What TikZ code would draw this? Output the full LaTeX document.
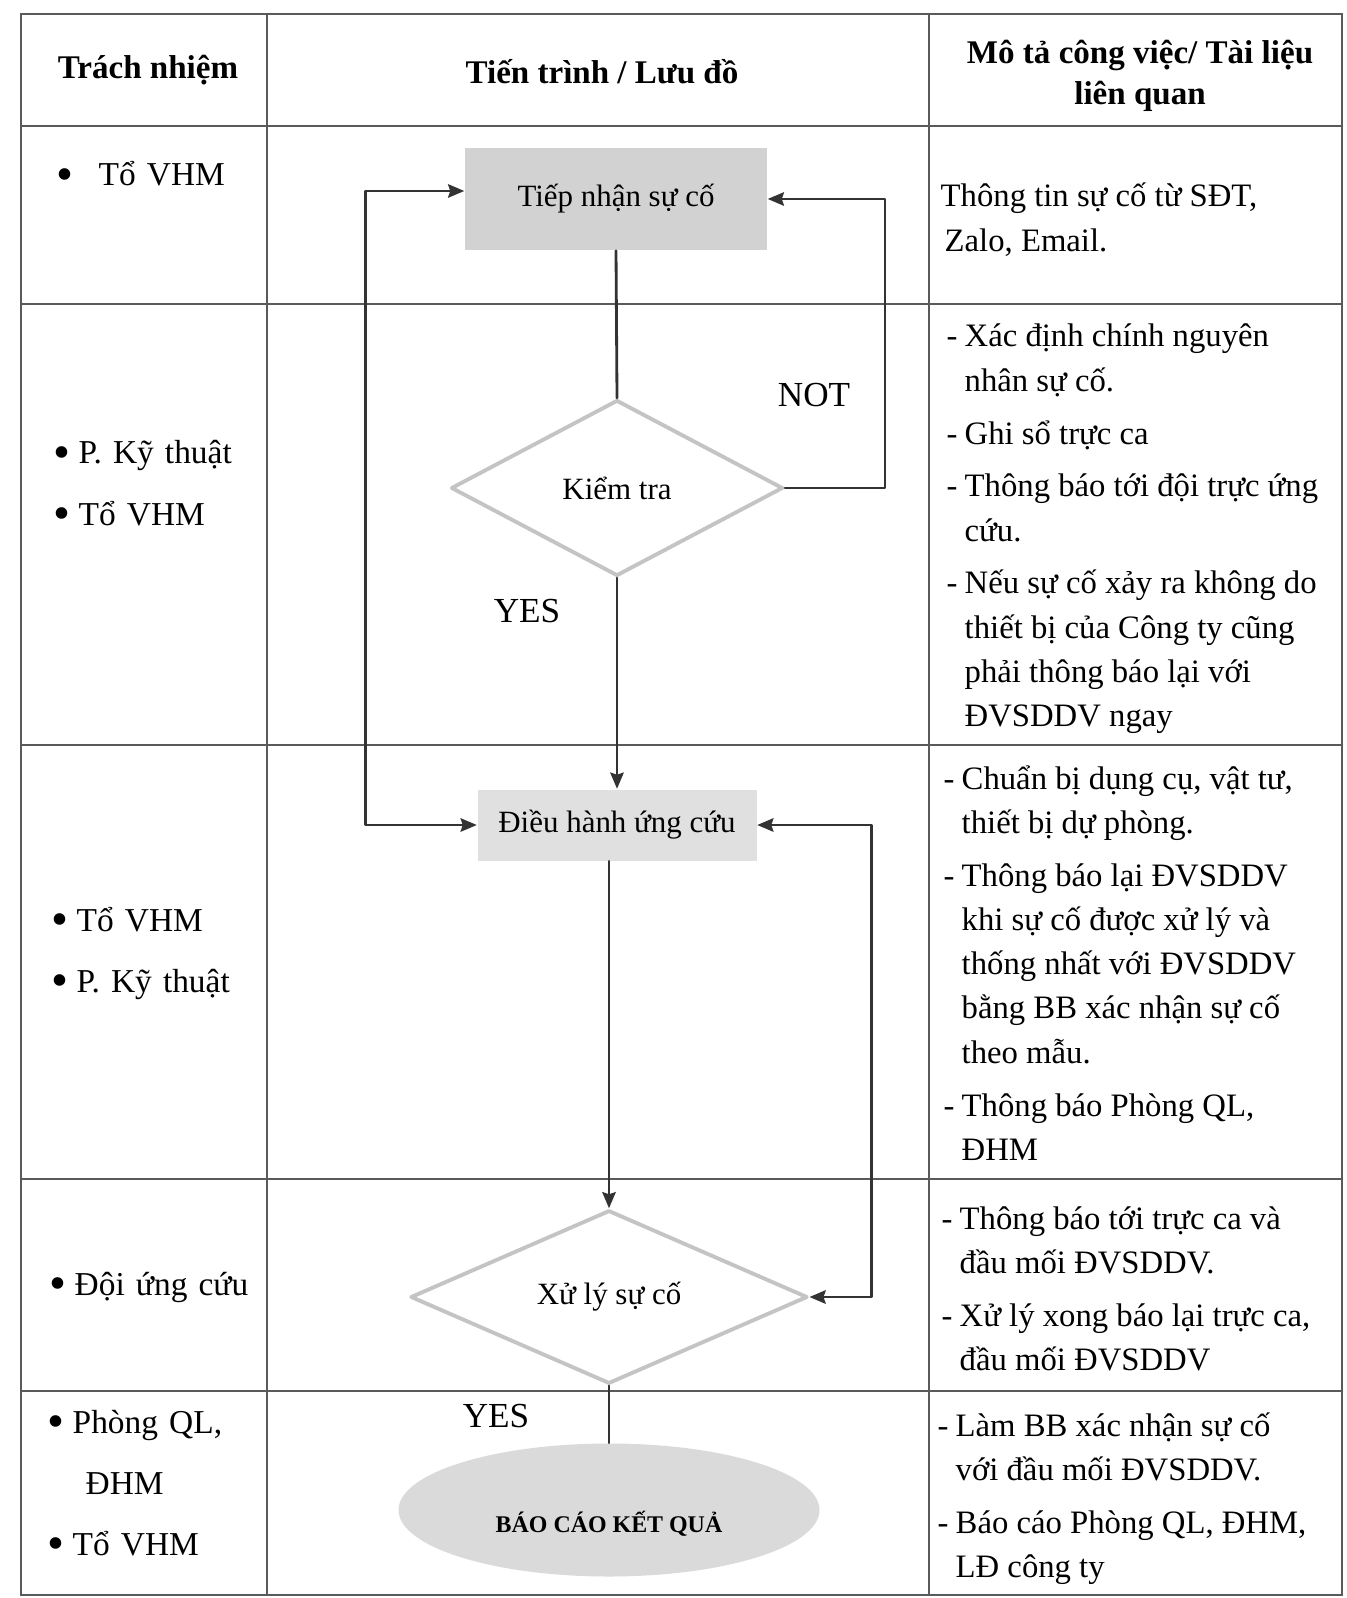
\documentclass[tikz,border=0pt]{standalone}
\usepackage{fontspec}
\setmainfont{Liberation Serif}
\usetikzlibrary{shapes.geometric,arrows.meta}

\definecolor{nenxam}{HTML}{D2D2D2}
\definecolor{nennhat}{HTML}{E0E0E0}
\definecolor{nenelip}{HTML}{DADADA}
\definecolor{vienthoi}{HTML}{C4C4C4}
\definecolor{keduong}{HTML}{5A5A5A}

\newlength{\pxu}\setlength{\pxu}{0.01cm}
\newcommand{\bul}[1]{\makebox[#1\pxu][l]{\raisebox{-1.2pt}{\scalebox{1.45}{\textbullet}}}}
\newcommand{\dongdau}{\hangindent=18\pxu\hangafter=1\noindent\makebox[18\pxu][l]{-}}
\newcommand{\dong}{\par\dongdau}

\begin{document}
\begin{tikzpicture}[x=0.01cm, y=-0.01cm, line join=round, line cap=round, >={Stealth[length=4.6pt,width=3.8pt,inset=0.6pt]},
    ke/.style={line width=0.7pt, draw=keduong},
    hop/.style={rectangle, inner sep=0, font=\fontsize{8.8}{10}\selectfont},
    thoi/.style={diamond, draw=vienthoi, line width=1.1pt, fill=white, inner sep=0, font=\fontsize{8.8}{10}\selectfont},
    noi/.style={line width=0.8pt, draw=black!80},
    cot/.style={inner sep=0, anchor=base west, text width=2.3cm, align=left, font=\fontsize{9.5}{17.4}\selectfont},
    mota/.style={inner sep=0, anchor=base west, text width=4cm, align=flush left, font=\fontsize{9.3}{12.6}\selectfont},
    tieude/.style={inner sep=0, align=center, font=\fontsize{9.4}{11.6}\selectfont\bfseries},
    nhan/.style={inner sep=0, font=\fontsize{10}{12}\selectfont}]
  \useasboundingbox (0,0) rectangle (1346,1598);

  % khung bang
  \foreach \yy in {14,126,304,745,1179,1391,1595}
    \draw[ke] (21,\yy) -- (1342,\yy);
  \foreach \xx in {21,267,929,1342}
    \draw[ke] (\xx,14) -- (\xx,1595);

  % tieu de
  \node[tieude] (h1) at (148,70) {Trách nhiệm};
  \node[tieude] (h2) at (602,72) {Tiến trình / Lưu đồ};
  \node[tieude] (h3) at (1140,76) {Mô tả công việc/ Tài liệu\\liên quan};

  % trach nhiem
  \node[cot] (r1) at (56,186) {\bul{42}Tổ VHM};
  \node[cot] (r2) at (53,464) {\bul{25}P. Kỹ thuật\\\bul{25}Tổ VHM};
  \node[cot] (r3) at (51,931) {\bul{25}Tổ VHM\\\bul{25}P. Kỹ thuật};
  \node[cot] (r4) at (49,1295) {\bul{25}Đội ứng cứu};
  \node[cot] (r5) at (47,1433) {\bul{25}Phòng QL,\\\hspace*{38\pxu}ĐHM\\\bul{25}Tổ VHM};

  % luu do
  \node[hop, fill=nenxam, minimum width=302\pxu, minimum height=102\pxu] (tn) at (616,199) {Tiếp nhận sự cố};
  \node[thoi, minimum width=332\pxu, minimum height=176\pxu] (kt) at (617,488) {Kiểm tra};
  \node[hop, fill=nennhat, minimum width=279\pxu, minimum height=71\pxu] (dh) at (617,825) {Điều hành ứng cứu};
  \node[thoi, minimum width=397\pxu, minimum height=138\pxu] (xl) at (609,1297) {Xử lý sự cố};
  \node[ellipse, fill=nenelip, inner sep=0, minimum width=421\pxu, minimum height=133\pxu,
        text height=13pt, text depth=0pt, font=\fontsize{6.8}{8}\selectfont\bfseries] (bc) at (609,1510) {BÁO CÁO KẾT QUẢ};

  \node[nhan] (no) at (814,395) {NOT};
  \node[nhan] (yes1) at (527,611) {YES};
  \node[nhan] (yes2) at (496,1416) {YES};

  \draw[noi] (tn.south) -- (kt.north);
  \draw[noi,->] (kt.south) -- (dh.north);
  \draw[noi,->] (dh.south -| xl.north) -- (xl.north);
  \draw[noi] (xl.south) -- (bc.north);
  \draw[noi,<->] ([yshift=8\pxu]tn.west) -- ++(-99,0) |- (dh.west);
  \draw[noi,->] (kt.east) -- ++(100,0) |- (tn.east);
  \draw[noi,<->] (dh.east) -- ++(114,0) |- (xl.east);

  % mo ta
  \node[mota] (m1) at (940,207) {Thông tin sự cố từ SĐT,\newline\hspace*{4\pxu}Zalo, Email.};
  \node[mota] (m2) at (946,347) {\setlength{\parskip}{2.4pt}%
    \dongdau Xác định chính nguyên\newline nhân sự cố.
    \dong Ghi sổ trực ca
    \dong Thông báo tới đội trực ứng\newline cứu.
    \dong Nếu sự cố xảy ra không do\newline thiết bị của Công ty cũng\newline phải thông báo lại với\newline ĐVSDDV ngay\par};
  \node[mota] (m3) at (943,789) {\setlength{\parskip}{2.4pt}%
    \dongdau Chuẩn bị dụng cụ, vật tư,\newline thiết bị dự phòng.
    \dong Thông báo lại ĐVSDDV\newline khi sự cố được xử lý và\newline thống nhất với ĐVSDDV\newline bằng BB xác nhận sự cố\newline theo mẫu.
    \dong Thông báo Phòng QL,\newline ĐHM\par};
  \node[mota] (m4) at (941,1229) {\setlength{\parskip}{2.4pt}%
    \dongdau Thông báo tới trực ca và\newline đầu mối ĐVSDDV.
    \dong Xử lý xong báo lại trực ca,\newline đầu mối ĐVSDDV\par};
  \node[mota] (m5) at (937,1436) {\setlength{\parskip}{2.4pt}%
    \dongdau Làm BB xác nhận sự cố\newline với đầu mối ĐVSDDV.
    \dong Báo cáo Phòng QL, ĐHM,\newline LĐ công ty\par};
\end{tikzpicture}
\end{document}
